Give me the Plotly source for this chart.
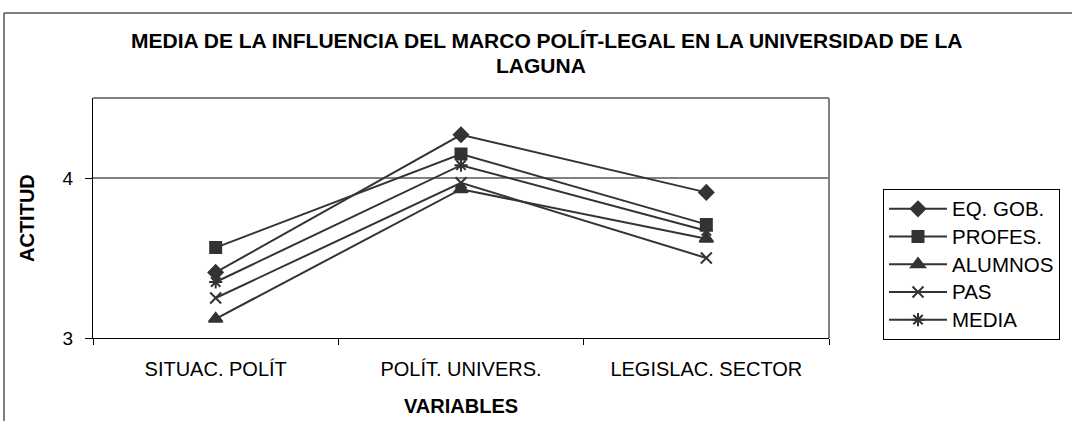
import plotly.graph_objects as go

categories = ["SITUAC. POLÍT", "POLÍT. UNIVERS.", "LEGISLAC. SECTOR"]
eq_gob = [3.41, 4.27, 3.91]
profes = [3.565, 4.15, 3.71]
alumnos = [3.12, 3.93, 3.62]
pas = [3.25, 3.97, 3.50]
media = [3.35, 4.08, 3.67]

series = [
    ("EQ. GOB.", eq_gob, "diamond", 11),
    ("PROFES.", profes, "square", 11),
    ("ALUMNOS", alumnos, "triangle-up", 12),
    ("PAS", pas, "x-thin-open", 11),
    ("MEDIA", media, "asterisk-open", 11),
]

C = "#333333"
FONT = "Liberation Sans, Arial, sans-serif"
fig = go.Figure()
for name, vals, sym, sz in series:
    fig.add_trace(go.Scatter(
        x=categories, y=vals,
        name='<span style="font-size:20.5px">' + name + "</span>",
        mode="lines+markers",
        line=dict(color=C, width=2),
        marker=dict(symbol=sym, size=sz, color=C, line=dict(color=C, width=2)),
    ))

W, H = 1072, 421
L, R, T, B = 93, 829, 98, 338
pw, ph = R - L, B - T

def px(x):
    return (x - L) / pw

def py(y):
    return (B - y) / ph

fig.update_layout(
    width=W, height=H,
    margin=dict(l=L, r=W - R, t=T, b=H - B, pad=0),
    paper_bgcolor="white", plot_bgcolor="white",
    font=dict(family=FONT, size=20, color="black"),
    showlegend=True,
    legend=dict(
        x=px(883), y=py(189), xanchor="left", yanchor="top",
        bordercolor="black", borderwidth=1, bgcolor="white",
        font=dict(size=19), tracegroupgap=0, itemwidth=58,
    ),
    xaxis=dict(
        showline=True, linecolor="black", linewidth=1,
        ticks="outside", ticklen=6, tickcolor="black", tickson="boundaries",
        showgrid=False, tickfont=dict(size=20), range=[-0.5, 2.5],
        ticklabelstandoff=13,
    ),
    yaxis=dict(
        range=[3, 4.5], tickvals=[3, 4], ticktext=["3", "4"],
        showline=True, linecolor="black", linewidth=1,
        ticks="outside", ticklen=7, tickcolor="black",
        showgrid=True, gridcolor="#808080", gridwidth=1.5,
        tickfont=dict(size=19), zeroline=False,
        ticklabelstandoff=8,
    ),
    annotations=[
        dict(text="<b>MEDIA DE LA INFLUENCIA DEL MARCO POLÍT-LEGAL EN LA UNIVERSIDAD DE LA</b>",
             xref="paper", yref="paper", x=px(546), y=py(41), xanchor="center", yanchor="middle",
             showarrow=False, font=dict(size=21)),
        dict(text="<b>LAGUNA</b>",
             xref="paper", yref="paper", x=px(541), y=py(65), xanchor="center", yanchor="middle",
             showarrow=False, font=dict(size=21)),
        dict(text="<b>ACTITUD</b>", textangle=-90,
             xref="paper", yref="paper", x=px(27), y=py(218), xanchor="center", yanchor="middle",
             showarrow=False, font=dict(size=20)),
        dict(text="<b>VARIABLES</b>",
             xref="paper", yref="paper", x=px(461), y=py(406), xanchor="center", yanchor="middle",
             showarrow=False, font=dict(size=20)),
    ],
    shapes=[
        dict(type="line", xref="paper", yref="paper", x0=px(L), x1=px(R), y0=py(T), y1=py(T),
             line=dict(color="#808080", width=2)),
        dict(type="line", xref="paper", yref="paper", x0=px(R), x1=px(R), y0=py(T), y1=py(B),
             line=dict(color="#808080", width=2)),
        dict(type="line", xref="paper", yref="paper", x0=px(4), x1=px(1080), y0=py(13), y1=py(13),
             line=dict(color="black", width=1)),
        dict(type="line", xref="paper", yref="paper", x0=px(4), x1=px(4), y0=py(13), y1=py(430),
             line=dict(color="black", width=1)),
    ],
)

fig.write_html("out.html", config={"displayModeBar": False},
               post_script="document.body.style.margin='0';")
